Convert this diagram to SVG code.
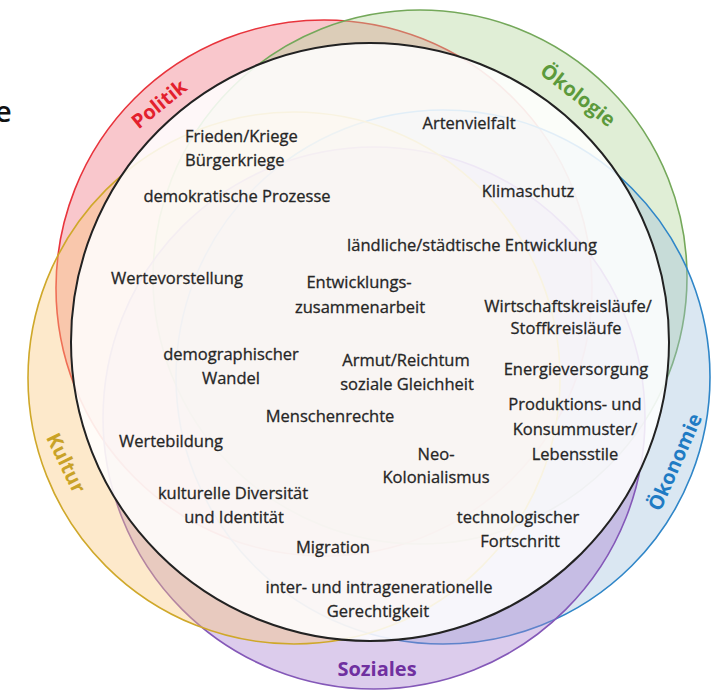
<svg xmlns="http://www.w3.org/2000/svg" width="713" height="692" viewBox="0 0 713 692">
<style>
.ring{stroke-width:1.6}
.t{font-family:"Open Sans","Noto Sans",sans-serif;font-size:16.5px;fill:#262626;stroke:#262626;stroke-width:0.3;text-anchor:middle}
.lbl{font-family:"Open Sans","Noto Sans",sans-serif;font-size:20px;font-weight:bold;text-anchor:middle}
</style>
<rect width="713" height="692" fill="#ffffff"/>
<text x="-5" y="122" font-family="Open Sans, sans-serif" font-size="29" font-weight="600" fill="#111">e</text>
<g id="circles">
  <g id="politik"><circle class="ring" cx="324" cy="288" r="268" fill="#f07a85" fill-opacity="0.42" stroke="#e8343c"/></g>
  <g id="oekologie"><circle class="ring" cx="420" cy="277" r="267" fill="#b5d69e" fill-opacity="0.42" stroke="#74a85a"/></g>
  <g id="oekonomie"><circle class="ring" cx="443" cy="377" r="267" fill="#9fbfdc" fill-opacity="0.38" stroke="#2f86c8"/></g>
  <g id="soziales"><circle class="ring" cx="374" cy="418" r="271" fill="#a87fd0" fill-opacity="0.4" stroke="#8458b8"/></g>
  <g id="kultur"><circle class="ring" cx="294" cy="378" r="266" fill="#fbc77e" fill-opacity="0.4" stroke="#cfa82a"/></g>
  <g id="center"><circle cx="370" cy="342" r="299" fill="#ffffff" fill-opacity="0.86" stroke="#222" stroke-width="2"/></g>
</g>
<g id="ring-labels">
  <text class="lbl" fill="#e3202d" transform="translate(159,104) rotate(-39)" dy="0.35em">Politik</text>
  <text class="lbl" fill="#5c9a3c" transform="translate(578,95) rotate(38)" dy="0.35em">Ökologie</text>
  <text class="lbl" fill="#1f7bc4" transform="translate(675,462) rotate(-66)" dy="0.35em">Ökonomie</text>
  <text class="lbl" fill="#7030a0" x="377" y="676">Soziales</text>
  <text class="lbl" fill="#c9a227" transform="translate(66,463) rotate(64)" dy="0.35em">Kultur</text>
</g>
<g id="topics">
  <text class="t" x="185" y="142" style="text-anchor:start">Frieden/Kriege</text>
  <text class="t" x="185" y="166" style="text-anchor:start">Bürgerkriege</text>
  <text class="t" x="237" y="202">demokratische Prozesse</text>
  <text class="t" x="469" y="129">Artenvielfalt</text>
  <text class="t" x="528" y="197">Klimaschutz</text>
  <text class="t" x="472" y="251">ländliche/städtische Entwicklung</text>
  <text class="t" x="177" y="284">Wertevorstellung</text>
  <text class="t" x="359" y="288">Entwicklungs-</text>
  <text class="t" x="360" y="313">zusammenarbeit</text>
  <text class="t" x="568" y="312">Wirtschaftskreisläufe/</text>
  <text class="t" x="566" y="334">Stoffkreisläufe</text>
  <text class="t" x="231" y="360">demographischer</text>
  <text class="t" x="231" y="384">Wandel</text>
  <text class="t" x="406" y="366">Armut/Reichtum</text>
  <text class="t" x="407" y="390">soziale Gleichheit</text>
  <text class="t" x="576" y="375">Energieversorgung</text>
  <text class="t" x="330" y="422">Menschenrechte</text>
  <text class="t" x="575" y="410">Produktions- und</text>
  <text class="t" x="575" y="435">Konsummuster/</text>
  <text class="t" x="575" y="460">Lebensstile</text>
  <text class="t" x="171" y="447">Wertebildung</text>
  <text class="t" x="436" y="460">Neo-</text>
  <text class="t" x="436" y="483">Kolonialismus</text>
  <text class="t" x="233" y="499">kulturelle Diversität</text>
  <text class="t" x="234" y="523">und Identität</text>
  <text class="t" x="333" y="553">Migration</text>
  <text class="t" x="518" y="523">technologischer</text>
  <text class="t" x="520" y="547">Fortschritt</text>
  <text class="t" x="379" y="593">inter- und intragenerationelle</text>
  <text class="t" x="378" y="617">Gerechtigkeit</text>
</g>
</svg>
